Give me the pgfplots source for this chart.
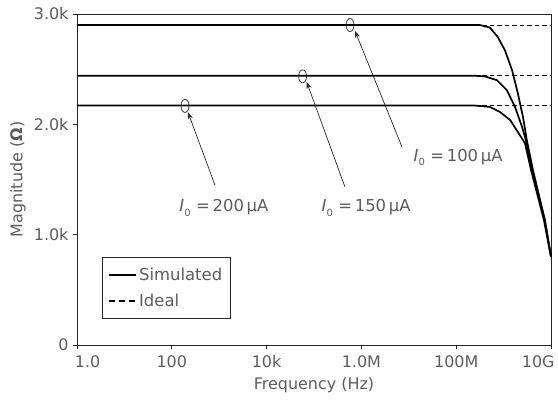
\documentclass[border=0pt]{standalone}
\usepackage{pgfplots}
\pgfplotsset{compat=1.18}
\usepackage{fontspec}
\setmainfont{DejaVu Sans}
\usetikzlibrary{arrows.meta}

\definecolor{txt}{gray}{0.36}

% Simulated impedance magnitude (kOhm) vs frequency (Hz)
\pgfplotstableread{
f        z
1        2.90
3.16e8   2.90
5.13e8   2.877
7.59e8   2.79
1.07e9   2.67
1.51e9   2.49
2.0e9    2.28
2.57e9   2.065
3.09e9   1.857
4.17e9   1.585
7.41e9   1.133
1e10     0.80
}\simA
\pgfplotstableread{
f        z
1        2.44
2.51e8   2.44
3.98e8   2.435
7.24e8   2.40
1.17e9   2.31
1.74e9   2.158
2.45e9   1.977
2.95e9   1.857
3.98e9   1.585
7.41e9   1.133
1e10     0.80
}\simB
\pgfplotstableread{
f        z
1        2.17
2.51e8   2.17
5.13e8   2.158
8.32e8   2.113
1.38e9   2.038
2.0e9    1.93
2.82e9   1.83
3.80e9   1.585
7.08e9   1.133
1e10     0.80
}\simC

\newcommand{\Izero}[1]{{\itshape I}\raisebox{-0.45ex}{\fontsize{10}{10}\selectfont 0}\,\,=\,#1\,µA}

\begin{document}
\begin{tikzpicture}
\begin{axis}[
  scale only axis,
  width=474bp, height=331bp,
  xmode=log,
  xmin=1, xmax=1e10,
  ymin=0, ymax=3,
  xtick={1,1e2,1e4,1e6,1e8,1e10},
  xticklabels={\makebox[0pt][l]{\hspace{-2bp}1.0},100,10k,1.0M,100M,\makebox[0pt][r]{10G\hspace{-3.5bp}}},
  ytick={0,1,2,3},
  yticklabels={0,1.0k,2.0k,3.0k},
  minor xtick={},
  tick align=outside,
  tick pos=left,
  major tick length=4bp,
  axis line style={black!85, line width=0.8bp},
  tick style={black!85, line width=0.8bp},
  tick label style={font=\fontsize{16}{18}\selectfont, text=txt},
  xticklabel style={yshift=-3bp},
  yticklabel style={xshift=-1bp},
  xlabel={Frequency (Hz)},
  ylabel={Magnitude (\textbf{Ω})},
  label style={font=\fontsize{16}{18}\selectfont, text=txt},
  xlabel style={at={(axis description cs:0.5,-0.121)}, anchor=center},
  ylabel style={at={(axis description cs:-0.1245,0.5)}, anchor=center},
  legend cell align=left,
  legend image code/.code={\draw[#1] (0bp,0bp) -- (27bp,0bp);},
  legend style={at={(0.053,0.079)}, anchor=south west,
    draw=black!85, fill=white,
    font=\fontsize{16.5}{19}\selectfont, text=txt,
    inner xsep=6bp, inner ysep=9bp, row sep=8bp},
  clip=false,
]
\addlegendimage{black, line width=1.8bp}
\addlegendentry{Simulated}
\addlegendimage{black, line width=1.8bp, dash pattern=on 6bp off 4bp}
\addlegendentry{Ideal}

% ideal (frequency-independent) values
\addplot[black, line width=1bp, dash pattern=on 4.5bp off 3bp] coordinates {(1,2.90) (1e10,2.90)};
\addplot[black, line width=1bp, dash pattern=on 4.5bp off 3bp] coordinates {(1,2.44) (1e10,2.44)};
\addplot[black, line width=1bp, dash pattern=on 4.5bp off 3bp] coordinates {(1,2.17) (1e10,2.17)};

% simulated responses
\addplot[black, line width=1.7bp, line join=round] table[x=f, y=z] {\simA};
\addplot[black, line width=1.7bp, line join=round] table[x=f, y=z] {\simB};
\addplot[black, line width=1.7bp, line join=round] table[x=f, y=z] {\simC};

% bias-current callouts
\draw[black!85, line width=0.7bp] (axis cs:190,2.167) ellipse [x radius=4bp, y radius=6.5bp];
\draw[black!85, line width=0.7bp] (axis cs:5.75e4,2.435) ellipse [x radius=4bp, y radius=6.5bp];
\draw[black!85, line width=0.7bp] (axis cs:5.75e5,2.90) ellipse [x radius=4bp, y radius=6.5bp];

\draw[black!85, line width=0.7bp, -{Stealth[length=7bp,width=5bp]}]
  (axis cs:813,1.45) -- (axis cs:219,2.11);
\draw[black!85, line width=0.7bp, -{Stealth[length=7bp,width=5bp]}]
  (axis cs:4.5e5,1.432) -- (axis cs:7.0e4,2.385);
\draw[black!85, line width=0.7bp, -{Stealth[length=7bp,width=5bp]}]
  (axis cs:7.2e6,1.794) -- (axis cs:7.3e5,2.848);

\node[text=txt, font=\fontsize{16.5}{19}\selectfont] at (axis cs:1259,1.242) {\Izero{200}};
\node[text=txt, font=\fontsize{16.5}{19}\selectfont] at (axis cs:1.26e6,1.242) {\Izero{150}};
\node[text=txt, font=\fontsize{16.5}{19}\selectfont] at (axis cs:1.1e8,1.703) {\Izero{100}};
\end{axis}
\pgfresetboundingbox
\path[use as bounding box] (current axis.south west) ++(-77bp,-56bp) rectangle ++(558bp,401bp);
\end{tikzpicture}
\end{document}
